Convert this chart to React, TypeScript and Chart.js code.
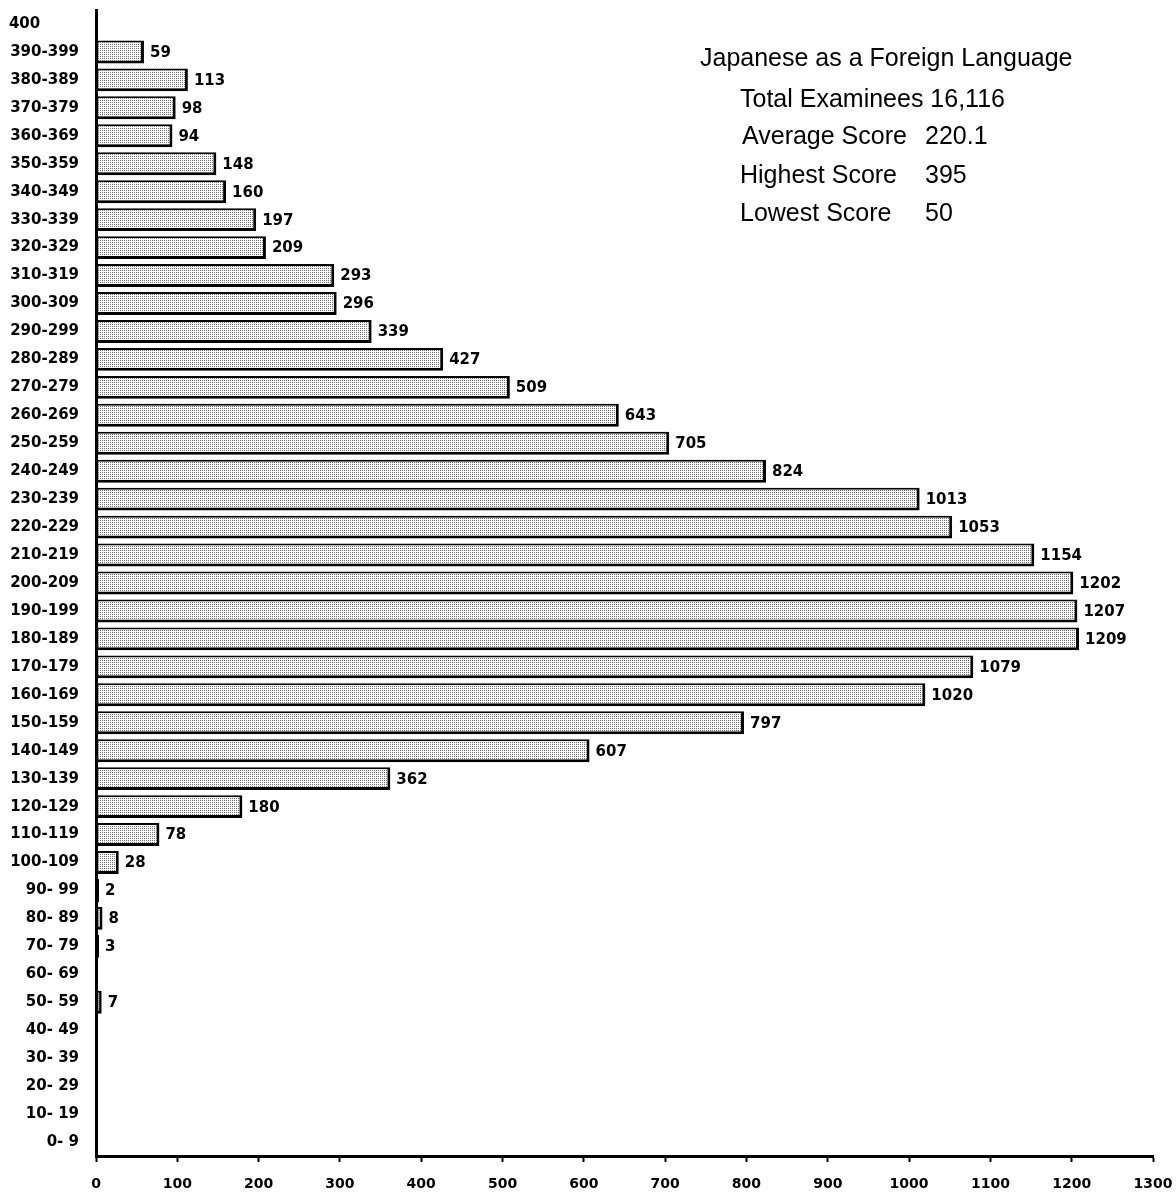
import React, { useEffect, useRef } from "react";
import { Chart, registerables } from "chart.js";

Chart.register(...registerables);

const categories: string[] = [
  "400", "390-399", "380-389", "370-379", "360-369", "350-359", "340-349", "330-339",
  "320-329", "310-319", "300-309", "290-299", "280-289", "270-279", "260-269", "250-259",
  "240-249", "230-239", "220-229", "210-219", "200-209", "190-199", "180-189", "170-179",
  "160-169", "150-159", "140-149", "130-139", "120-129", "110-119", "100-109", "90- 99",
  "80- 89", "70- 79", "60- 69", "50- 59", "40- 49", "30- 39", "20- 29", "10- 19", "0- 9",
];

const examinees: (number | null)[] = [
  null, 59, 113, 98, 94, 148, 160, 197,
  209, 293, 296, 339, 427, 509, 643, 705,
  824, 1013, 1053, 1154, 1202, 1207, 1209, 1079,
  1020, 797, 607, 362, 180, 78, 28, 2,
  8, 3, null, 7, null, null, null, null, null,
];

const xTicks: number[] = [0, 100, 200, 300, 400, 500, 600, 700, 800, 900, 1000, 1100, 1200, 1300];

const infoTitle = "Japanese as a Foreign Language";
const infoLabels: string[] = ["Total Examinees", "Average Score", "Highest Score", "Lowest Score"];
const infoValues: string[] = ["16,116", "220.1", "395", "50"];

const BOLD = "bold 15px 'DejaVu Sans'";

export default function App() {
  const ref = useRef<HTMLCanvasElement | null>(null);

  useEffect(() => {
    document.body.style.margin = "0";
    const canvas = ref.current;
    if (!canvas) return;

    const tile = document.createElement("canvas");
    tile.width = 2;
    tile.height = 2;
    const tctx = tile.getContext("2d")!;
    tctx.fillStyle = "#ffffff";
    tctx.fillRect(0, 0, 2, 2);
    tctx.fillStyle = "#707070";
    tctx.fillRect(0, 0, 1, 1);
    const ctx = canvas.getContext("2d")!;
    const pattern = ctx.createPattern(tile, "repeat") || "#d0d0d0";

    const valueLabels = {
      id: "valueLabels",
      afterDatasetsDraw(chart: any) {
        const c = chart.ctx;
        const meta = chart.getDatasetMeta(0);
        c.save();
        c.font = BOLD;
        c.fillStyle = "#000";
        c.textAlign = "left";
        c.textBaseline = "middle";
        meta.data.forEach((el: any, i: number) => {
          const v = examinees[i];
          if (v === null || v === undefined) return;
          c.fillText(String(v), el.x + 6, el.y + 1);
        });
        c.restore();
      },
    };

    const infoBox = {
      id: "infoBox",
      afterDraw(chart: any) {
        const c = chart.ctx;
        c.save();
        c.font = "25px 'Liberation Sans'";
        c.fillStyle = "#000";
        c.textBaseline = "middle";
        c.textAlign = "left";
        c.fillText(infoTitle, 700, 59);
        const ys = [100, 137, 176, 214];
        const xs = [740, 742, 740, 740];
        infoLabels.forEach((lab, i) => {
          c.fillText(lab, xs[i], ys[i]);
          if (i === 0) {
            const w = c.measureText(lab + " ").width;
            c.fillText(infoValues[i], xs[i] + w, ys[i]);
          } else {
            c.fillText(infoValues[i], 925, ys[i]);
          }
        });
        c.restore();
      },
    };

    const chart = new Chart(canvas, {
      type: "bar",
      data: {
        labels: categories,
        datasets: [
          {
            data: examinees as any,
            backgroundColor: pattern as any,
            borderColor: "#000000",
            borderWidth: { top: 2, left: 2, right: 3, bottom: 3 } as any,
            borderSkipped: false,
            barPercentage: 0.82,
            categoryPercentage: 1,
            minBarLength: 3,
          },
        ],
      },
      options: {
        indexAxis: "y",
        responsive: false,
        animation: false,
        layout: { padding: { top: 10, right: 23, left: 0, bottom: 0 } },
        plugins: {
          legend: { display: false },
          tooltip: { enabled: false },
          title: { display: false },
        },
        scales: {
          y: {
            type: "category",
            offset: true,
            grid: { display: false, drawTicks: false },
            border: { color: "#000", width: 3 },
            ticks: {
              color: "#000",
              font: { family: "'DejaVu Sans'", size: 15, weight: "bold" },
              padding: 17,
              autoSkip: false,
              callback: (_v: any, i: number) =>
                i === 0 ? categories[i] + "\u2007\u2007\u2007\u2002" : categories[i],
            },
            afterFit: (s: any) => {
              s.width = 96;
              s.paddingTop = 0;
              s.paddingBottom = 0;
            },
          },
          x: {
            type: "linear",
            min: 0,
            max: 1300,
            afterBuildTicks: (s: any) => {
              s.ticks = xTicks.map((v) => ({ value: v }));
            },
            grid: {
              display: true,
              drawOnChartArea: false,
              drawTicks: true,
              tickLength: 6,
              tickWidth: 2,
              tickColor: "#000",
            },
            border: { color: "#000", width: 3 },
            ticks: {
              color: "#000",
              font: { family: "'DejaVu Sans'", size: 14, weight: "bold" },
              padding: 14,
              maxRotation: 0,
              autoSkip: false,
              callback: (v: any) => String(v),
            },
            afterFit: (s: any) => {
              s.height = 40;
              s.paddingLeft = 0;
              s.paddingRight = 0;
            },
          },
        },
      },
      plugins: [valueLabels, infoBox],
    });

    return () => {
      chart.destroy();
    };
  }, []);

  return (
    <div style={{ width: 1176, height: 1196, position: "relative", background: "#fff" }}>
      <canvas ref={ref} width={1176} height={1196} />
    </div>
  );
}
